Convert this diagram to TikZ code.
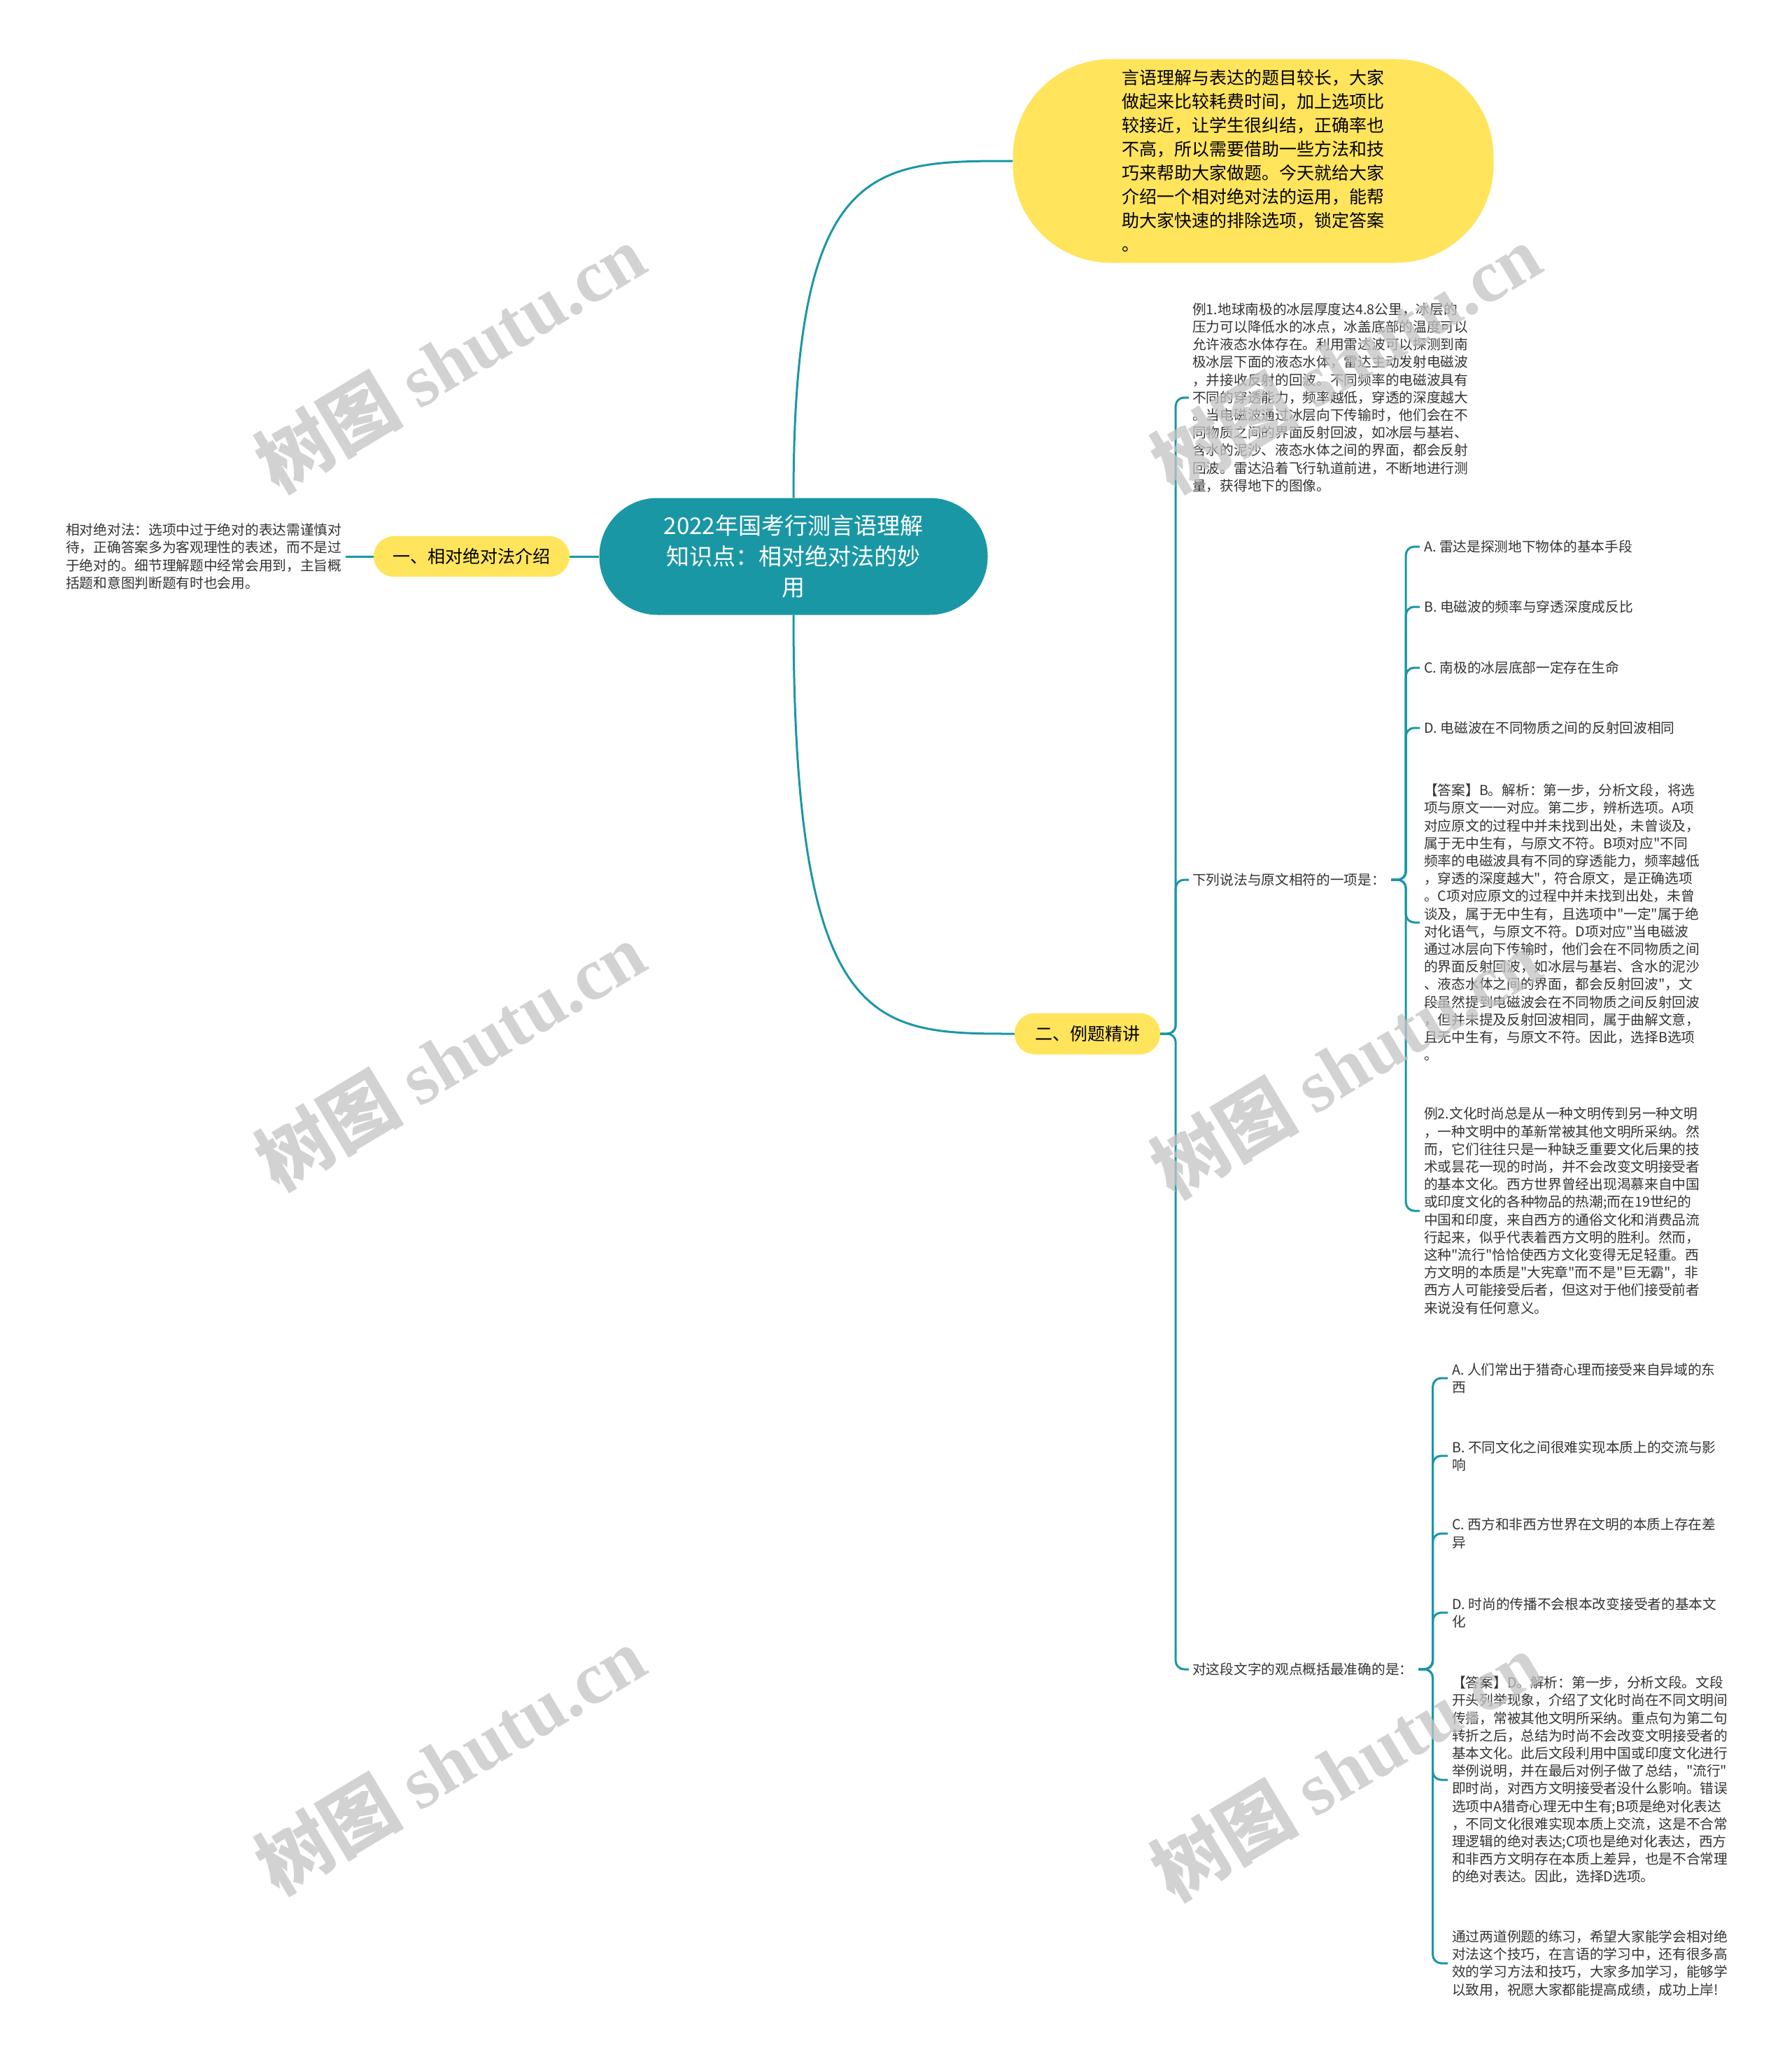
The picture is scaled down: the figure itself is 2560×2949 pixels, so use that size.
\documentclass[tikz,border=0pt]{standalone}
\usepackage{fontspec}
\newfontfamily\cjkf{Noto Sans CJK SC}
\newfontfamily\wmserif{Liberation Serif}
\usetikzlibrary{calc}
\definecolor{teal1}{HTML}{1A97A5}
\definecolor{yel}{HTML}{FFE45C}
\definecolor{txtc}{HTML}{333333}
\definecolor{wmc}{HTML}{C4C4C4}
\tikzset{
  small/.style={font=\cjkf\fontsize{19.7pt}{25.2pt}\selectfont, text=txtc, align=left, inner sep=0pt, anchor=west},
  conn/.style={draw=teal1, line width=3pt},
  topic/.style={fill=yel, text=black, font=\cjkf\fontsize{25pt}{30pt}\selectfont, inner sep=0pt},
  centre/.style={fill=teal1, text=white, font=\cjkf\fontsize{33pt}{44pt}\selectfont, align=center, inner sep=0pt,
    minimum width=555pt, minimum height=167pt, rounded corners=83pt},
  bignote/.style={fill=yel, text=black, font=\cjkf\fontsize{25pt}{34pt}\selectfont, align=left, inner sep=0pt,
    minimum width=687pt, minimum height=291pt, rounded corners=140pt},
  wmark/.style={rotate=31, text=wmc, font=\cjkf\fontsize{106pt}{106pt}\selectfont\bfseries, opacity=0.75, inner sep=0pt},
  bracket/.style={conn, rounded corners=12pt}
}
\begin{document}
\begin{tikzpicture}[x=1pt,y=-1pt]
\useasboundingbox[fill=white] (0,0) rectangle (2560,2949);

% main nodes
\node[centre] (c) at (1134,795) {2022年国考行测言语理解\\知识点：相对绝对法的妙\\用};
\node[bignote] (top) at (1791,230) {言语理解与表达的题目较长，大家\\做起来比较耗费时间，加上选项比\\较接近，让学生很纠结，正确率也\\不高，所以需要借助一些方法和技\\巧来帮助大家做题。今天就给大家\\介绍一个相对绝对法的运用，能帮\\助大家快速的排除选项，锁定答案\\。};
\node[topic, minimum width=280pt, minimum height=58pt, rounded corners=29pt] (n1) at (674,795) {一、相对绝对法介绍};
\node[topic, minimum width=208pt, minimum height=59pt, rounded corners=29pt] (n2) at (1554,1477) {二、例题精讲};

% left text
\node[small] (lt) at (94,795) {相对绝对法：选项中过于绝对的表达需谨慎对\\待，正确答案多为客观理性的表述，而不是过\\于绝对的。细节理解题中经常会用到，主旨概\\括题和意图判断题有时也会用。};

% children of n2
\node[small] (ex1) at (1704,568) {例1.地球南极的冰层厚度达4.8公里，冰层的\\压力可以降低水的冰点，冰盖底部的温度可以\\允许液态水体存在。利用雷达波可以探测到南\\极冰层下面的液态水体，雷达主动发射电磁波\\，并接收反射的回波。不同频率的电磁波具有\\不同的穿透能力，频率越低，穿透的深度越大\\。当电磁波通过冰层向下传输时，他们会在不\\同物质之间的界面反射回波，如冰层与基岩、\\含水的泥沙、液态水体之间的界面，都会反射\\回波。雷达沿着飞行轨道前进，不断地进行测\\量，获得地下的图像。};
\node[small] (q1) at (1704,1257) {下列说法与原文相符的一项是：};
\node[small] (q2) at (1704,2385) {对这段文字的观点概括最准确的是：};

% children of q1
\node[small] (a1) at (2035,781) {A. 雷达是探测地下物体的基本手段};
\node[small] (b1) at (2035,867) {B. 电磁波的频率与穿透深度成反比};
\node[small] (c1) at (2035,954) {C. 南极的冰层底部一定存在生命};
\node[small] (d1) at (2035,1040) {D. 电磁波在不同物质之间的反射回波相同};
\node[small] (ans1) at (2035,1318) {【答案】B。解析：第一步，分析文段，将选\\项与原文一一对应。第二步，辨析选项。A项\\对应原文的过程中并未找到出处，未曾谈及，\\属于无中生有，与原文不符。B项对应"不同\\频率的电磁波具有不同的穿透能力，频率越低\\，穿透的深度越大"，符合原文，是正确选项\\。C项对应原文的过程中并未找到出处，未曾\\谈及，属于无中生有，且选项中"一定"属于绝\\对化语气，与原文不符。D项对应"当电磁波\\通过冰层向下传输时，他们会在不同物质之间\\的界面反射回波，如冰层与基岩、含水的泥沙\\、液态水体之间的界面，都会反射回波"，文\\段虽然提到电磁波会在不同物质之间反射回波\\，但并未提及反射回波相同，属于曲解文意，\\且无中生有，与原文不符。因此，选择B选项\\。};
\node[small] (ex2) at (2035,1730) {例2.文化时尚总是从一种文明传到另一种文明\\，一种文明中的革新常被其他文明所采纳。然\\而，它们往往只是一种缺乏重要文化后果的技\\术或昙花一现的时尚，并不会改变文明接受者\\的基本文化。西方世界曾经出现渴慕来自中国\\或印度文化的各种物品的热潮;而在19世纪的\\中国和印度，来自西方的通俗文化和消费品流\\行起来，似乎代表着西方文明的胜利。然而，\\这种"流行"恰恰使西方文化变得无足轻重。西\\方文明的本质是"大宪章"而不是"巨无霸"，非\\西方人可能接受后者，但这对于他们接受前者\\来说没有任何意义。};

% children of q2
\node[small] (a2) at (2075,1969) {A. 人们常出于猎奇心理而接受来自异域的东\\西};
\node[small] (b2) at (2075,2080) {B. 不同文化之间很难实现本质上的交流与影\\响};
\node[small] (c2) at (2075,2191) {C. 西方和非西方世界在文明的本质上存在差\\异};
\node[small] (d2) at (2075,2304) {D. 时尚的传播不会根本改变接受者的基本文\\化};
\node[small] (ans2) at (2075,2543) {【答案】D。解析：第一步，分析文段。文段\\开头列举现象，介绍了文化时尚在不同文明间\\传播，常被其他文明所采纳。重点句为第二句\\转折之后，总结为时尚不会改变文明接受者的\\基本文化。此后文段利用中国或印度文化进行\\举例说明，并在最后对例子做了总结，"流行"\\即时尚，对西方文明接受者没什么影响。错误\\选项中A猎奇心理无中生有;B项是绝对化表达\\，不同文化很难实现本质上交流，这是不合常\\理逻辑的绝对表达;C项也是绝对化表达，西方\\和非西方文明存在本质上差异，也是不合常理\\的绝对表达。因此，选择D选项。};
\node[small] (con) at (2075,2805) {通过两道例题的练习，希望大家能学会相对绝\\对法这个技巧，在言语的学习中，还有很多高\\效的学习方法和技巧，大家多加学习，能够学\\以致用，祝愿大家都能提高成绩，成功上岸!};

% connectors
\draw[conn] ([xshift=6pt]lt.east) -- (n1.west);
\draw[conn] (n1.east) -- (c.west);
\draw[conn] (c.north) .. controls (c.north |- top.west) and ([xshift=-200pt]top.west) .. (top.west);
\draw[conn] (c.south) .. controls (c.south |- n2.west) and ([xshift=-200pt]n2.west) .. (n2.west);

\coordinate (bar1) at ([xshift=22pt]n2.east);
\draw[bracket] (n2.east) -- (bar1) |- ([xshift=-5pt]ex1.west);
\draw[bracket] (n2.east) -- (bar1) |- ([xshift=-5pt]q1.west);
\draw[bracket] (n2.east) -- (bar1) |- ([xshift=-5pt]q2.west);

\coordinate (bar2) at ([xshift=29pt]q1.east);
\foreach \t in {a1,b1,c1,d1,ans1,ex2}
  \draw[bracket] ([xshift=8pt]q1.east) -- (bar2) |- ([xshift=-6pt]\t.west);

\coordinate (bar3) at ([xshift=28pt]q2.east);
\foreach \t in {a2,b2,c2,d2,ans2,con}
  \draw[bracket] ([xshift=8pt]q2.east) -- (bar3) |- ([xshift=-6pt]\t.west);

% watermarks
\node[wmark] (w1) at (643,512) {树图 {\wmserif\bfseries shutu.cn}};
\node[wmark] (w2) at (1923,512) {树图 {\wmserif\bfseries shutu.cn}};
\node[wmark] (w3) at (643,1509) {树图 {\wmserif\bfseries shutu.cn}};
\node[wmark] (w4) at (1923,1520) {树图 {\wmserif\bfseries shutu.cn}};
\node[wmark] (w5) at (643,2515) {树图 {\wmserif\bfseries shutu.cn}};
\node[wmark] (w6) at (1923,2524) {树图 {\wmserif\bfseries shutu.cn}};
\end{tikzpicture}
\end{document}
